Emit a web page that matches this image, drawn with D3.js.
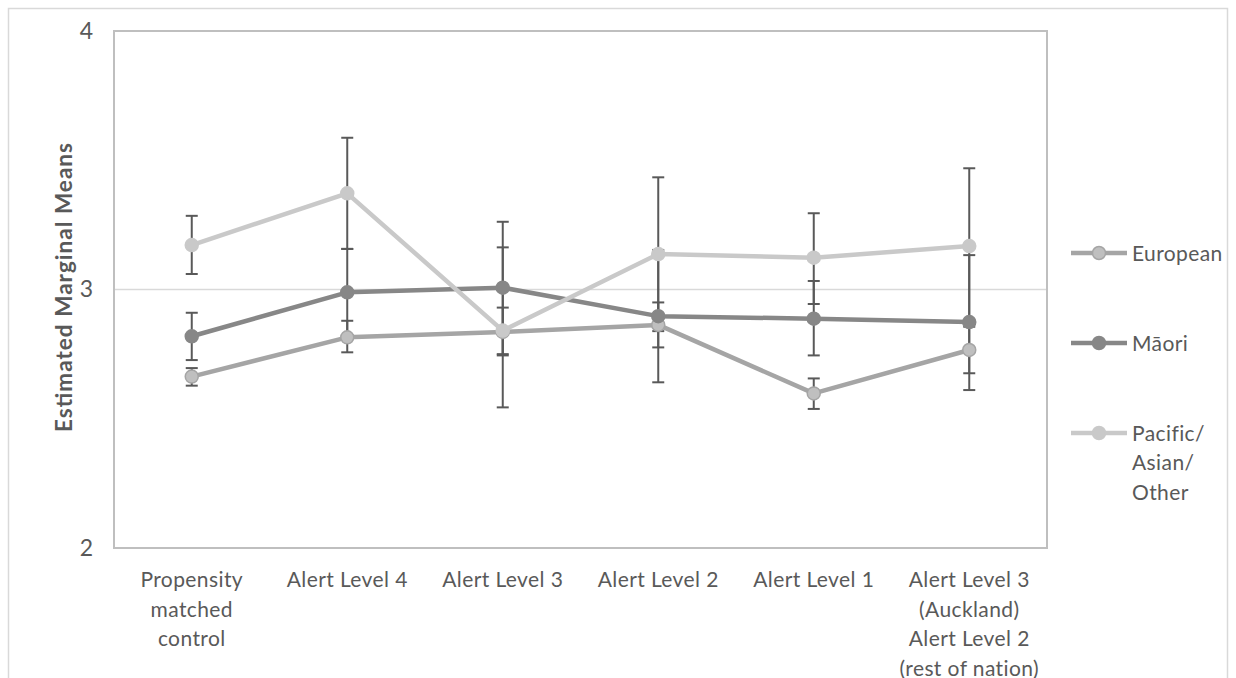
<!DOCTYPE html>
<html><head><meta charset="utf-8">
<script src="https://cdn.jsdelivr.net/npm/d3@7"></script>
<style>body{margin:0;background:#fff}svg{display:block;font-family:Lato,"Open Sans",sans-serif}</style>
</head><body><svg id="c" width="1236" height="678"></svg>
<script>
const categories = ["Propensity\nmatched\ncontrol","Alert Level 4","Alert Level 3","Alert Level 2","Alert Level 1","Alert Level 3\n(Auckland)\nAlert Level 2\n(rest of nation)"];
const seriesNames = ["European","Māori","Pacific/\nAsian/\nOther"];
const european = [2.663, 2.815, 2.836, 2.863, 2.598, 2.766];
const europeanUpper = [2.696, 2.879, 2.930, 2.950, 2.656, 2.856];
const europeanLower = [2.628, 2.757, 2.745, 2.776, 2.538, 2.676];
const maori = [2.819, 2.989, 3.007, 2.897, 2.887, 2.874];
const maoriUpper = [2.910, 3.157, 3.262, 3.153, 3.033, 3.133];
const maoriLower = [2.727, 2.824, 2.750, 2.641, 2.745, 2.611];
const pacific = [3.172, 3.372, 2.841, 3.137, 3.123, 3.168];
const pacificUpper = [3.285, 3.587, 3.163, 3.434, 3.295, 3.469];
const pacificLower = [3.060, 3.157, 2.544, 2.839, 2.944, 2.868];
const yTicks = [2, 3, 4];
const yTitle = "Estimated Marginal Means";

const styles = [
  {line:"#a5a5a5", fill:"#bfbfbf", stroke:"#a5a5a5"},
  {line:"#878787", fill:"#878787", stroke:"#878787"},
  {line:"#c9c9c9", fill:"#c9c9c9", stroke:"#c9c9c9"}
];
const series = [
  {name:seriesNames[0], v:european, up:europeanUpper, lo:europeanLower, s:styles[0]},
  {name:seriesNames[1], v:maori, up:maoriUpper, lo:maoriLower, s:styles[1]},
  {name:seriesNames[2], v:pacific, up:pacificUpper, lo:pacificLower, s:styles[2]}
];

const svg = d3.select("#c");
const L=114, R=1047, T=31, B=548;
const x = d3.scalePoint().domain(categories).range([L,R]).padding(0.5);
const y = d3.scaleLinear().domain([2,4]).range([B,T]);

// outer border
svg.append("rect").attr("x",8.5).attr("y",8.5).attr("width",1219).attr("height",700)
  .attr("fill","none").attr("stroke","#d9d9d9").attr("stroke-width",1.5);

// gridline at 3
svg.append("line").attr("x1",L).attr("x2",R).attr("y1",y(3)).attr("y2",y(3))
  .attr("stroke","#d9d9d9").attr("stroke-width",1.5);
// plot frame
svg.append("rect").attr("x",L).attr("y",T).attr("width",R-L).attr("height",B-T)
  .attr("fill","none").attr("stroke","#bfbfbf").attr("stroke-width",2);

// y axis
const ya = svg.append("g").attr("transform",`translate(${L},0)`)
  .call(d3.axisLeft(y).tickValues(yTicks).tickFormat(d3.format("d")).tickSize(0).tickPadding(21));
ya.select(".domain").remove();
ya.selectAll("text").attr("font-size",23).attr("fill","#595959").attr("font-family","Lato,'Open Sans',sans-serif");

// y title
svg.append("text").attr("transform",`translate(72,${y(3)-2}) rotate(-90)`).attr("text-anchor","middle")
  .attr("font-size",22.5).attr("font-weight","bold").attr("fill","#595959")
  .attr("textLength",289).attr("lengthAdjust","spacing").text(yTitle);

// x labels
categories.forEach(c=>{
  const t = svg.append("text").attr("text-anchor","middle").attr("font-size",21)
    .attr("letter-spacing",0.4).attr("fill","#595959");
  c.split("\n").forEach((ln,i)=>{
    t.append("tspan").attr("x",x(c)).attr("y",587+i*29.5).text(ln);
  });
});

// lines
const lineGen = d3.line().x((d,i)=>x(categories[i])).y(d=>y(d));
series.forEach(sr=>{
  svg.append("path").datum(sr.v).attr("d",lineGen).attr("fill","none")
    .attr("stroke",sr.s.line).attr("stroke-width",4.5).attr("stroke-linejoin","round");
});
// error bars
series.forEach(sr=>{
  const g = svg.append("g").attr("stroke","#595959").attr("stroke-width",2);
  categories.forEach((c,i)=>{
    const cx = x(c);
    g.append("line").attr("x1",cx).attr("x2",cx).attr("y1",y(sr.up[i])).attr("y2",y(sr.lo[i]));
    g.append("line").attr("x1",cx-6).attr("x2",cx+6).attr("y1",y(sr.up[i])).attr("y2",y(sr.up[i]));
    g.append("line").attr("x1",cx-6).attr("x2",cx+6).attr("y1",y(sr.lo[i])).attr("y2",y(sr.lo[i]));
  });
});
// markers
series.forEach(sr=>{
  svg.append("g").selectAll("circle").data(sr.v).join("circle")
    .attr("cx",(d,i)=>x(categories[i])).attr("cy",d=>y(d)).attr("r",6.5)
    .attr("fill",sr.s.fill).attr("stroke",sr.s.stroke).attr("stroke-width",1.5);
});

// legend
const legY = [253, 343, 433];
series.forEach((sr,k)=>{
  const g = svg.append("g");
  g.append("line").attr("x1",1071).attr("x2",1127).attr("y1",legY[k]).attr("y2",legY[k])
    .attr("stroke",sr.s.line).attr("stroke-width",4.5);
  g.append("circle").attr("cx",1099).attr("cy",legY[k]).attr("r",6.5)
    .attr("fill",sr.s.fill).attr("stroke",sr.s.stroke).attr("stroke-width",1.5);
  const t = g.append("text").attr("font-size",21).attr("letter-spacing",0.4).attr("fill","#595959");
  sr.name.split("\n").forEach((ln,i)=>{
    t.append("tspan").attr("x",1132).attr("y",legY[k]+7.5+i*29.5).text(ln);
  });
});
</script></body></html>
